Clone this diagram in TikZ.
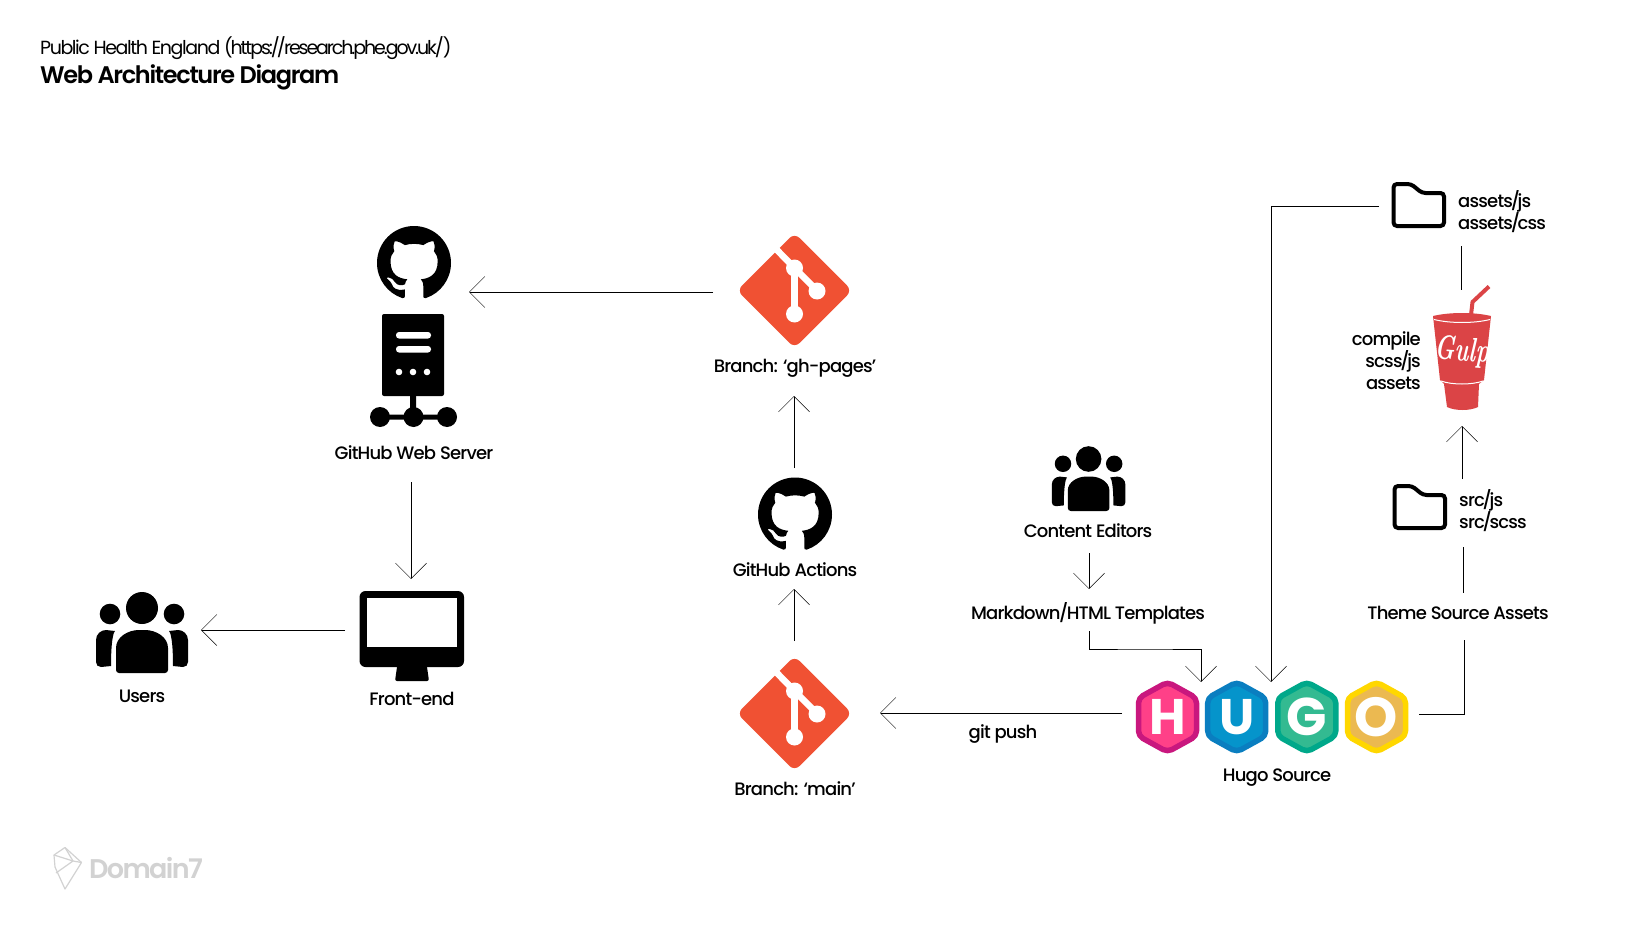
\documentclass[tikz,border=0pt]{standalone}
\usepackage{fontspec}
\setmainfont{Poppins}[UprightFont=* Medium,BoldFont=* SemiBold,LetterSpace=-4.5]
\newfontfamily\lightfont{Poppins}[LetterSpace=-7.5]
\newfontfamily\urlfont{Poppins}[LetterSpace=-11]
\newfontfamily\titlefont{Poppins}[UprightFont=* SemiBold,LetterSpace=-5.5]
\newfontfamily\logofont{Poppins}[UprightFont=* SemiBold,LetterSpace=-6]
\newfontfamily\heavyfont{Poppins}[UprightFont=* Bold]
\newfontfamily\gulpfont{Latin Modern Roman}
\newcommand{\slh}{\kern-2.2pt/\kern-2.4pt}
\usetikzlibrary{arrows.meta,svg.path}
\definecolor{gitred}{HTML}{F05133}
\definecolor{gulpred}{HTML}{DB4446}
\definecolor{dgray}{HTML}{D2D2D2}
\definecolor{HugoH}{HTML}{C9177E}
\definecolor{HugoHi}{HTML}{FF4088}
\definecolor{HugoU}{HTML}{0A7EC0}
\definecolor{HugoUi}{HTML}{0594CB}
\definecolor{HugoG}{HTML}{00A88A}
\definecolor{HugoGi}{HTML}{33BA91}
\definecolor{HugoO}{HTML}{FFD700}
\definecolor{HugoOi}{HTML}{EBB951}
\tikzset{
  lbl/.style={inner sep=0pt,anchor=base,font=\fontsize{18}{22}\selectfont},
  ltxt/.style={inner sep=0pt,anchor=base west,font=\fontsize{18}{22}\selectfont},
  rtxt/.style={inner sep=0pt,anchor=base east,font=\fontsize{18}{22}\selectfont},
  conn/.style={line width=1pt,draw=black},
  arr/.style={conn,-{Straight Barb[length=15.5pt,width=31pt,line width=0.5pt]}},
}
\newcommand{\ghmark}[2]{%
  \begin{scope}[shift={(#1-37,#2-37)},yscale=-1,scale=4.625]
  \fill[black] svg "M8 0 C3.58 0 0 3.58 0 8 C0 11.54 2.29 14.53 5.47 15.59 c0.4 0.07 0.55 -0.17 0.55 -0.38 c0 -0.19 -0.01 -0.82 -0.01 -1.49 c-2.01 0.37 -2.53 -0.49 -2.69 -0.94 c-0.09 -0.23 -0.48 -0.94 -0.82 -1.13 c-0.28 -0.15 -0.68 -0.52 -0.01 -0.53 c0.63 -0.01 1.08 0.58 1.23 0.82 c0.72 1.21 1.87 0.87 2.33 0.66 c0.07 -0.52 0.28 -0.87 0.51 -1.07 c-1.78 -0.2 -3.64 -0.89 -3.64 -3.95 c0 -0.87 0.31 -1.59 0.82 -2.15 c-0.08 -0.2 -0.36 -1.02 0.08 -2.12 c0 0 0.67 -0.21 2.2 0.82 c0.64 -0.18 1.32 -0.27 2 -0.27 c0.68 0 1.36 0.09 2 0.27 c1.53 -1.04 2.2 -0.82 2.2 -0.82 c0.44 1.1 0.16 1.92 0.08 2.12 c0.51 0.56 0.82 1.27 0.82 2.15 c0 3.07 -1.87 3.75 -3.65 3.95 c0.29 0.25 0.54 0.73 0.54 1.48 c0 1.07 -0.01 1.93 -0.01 2.2 c0 0.21 0.15 0.46 0.55 0.38 C13.71 14.53 16 11.53 16 8 C16 3.58 12.42 0 8 0 Z";
  \end{scope}}
\newcommand{\gitlogo}[2]{%
  \begin{scope}[shift={(#1,#2)}]
  \fill[gitred,rounded corners=7pt] (0,-57.5)--(57.5,0)--(0,57.5)--(-57.5,0)--cycle;
  \draw[white,line width=6.5pt] (-19,-42)--(0,-22.5)--(22.5,0);
  \draw[white,line width=6.5pt] (0,-22.5)--(0,23.5);
  \fill[white] (0,-22.5) circle (8.5) (22.5,0.5) circle (8.5) (0,23.5) circle (8.5);
  \end{scope}}
\newcommand{\people}[3]{%
  \begin{scope}[shift={(#1,#2)},scale=#3]
  \fill[black] (0,-65) ellipse (16 and 16);
  \fill[black] (-32,-59) circle (10.3) (32,-59) circle (10.3);
  \fill[black,rounded corners=3pt] (-26,0)--(-26,-22)
     .. controls (-26,-36) and (-14,-43) .. (0,-43)
     .. controls (14,-43) and (26,-36) .. (26,-22)--(26,0)--cycle;
  \fill[black] (-27,-42) .. controls (-29,-40) and (-31,-30) .. (-31,-7)
     --(-41,-6) .. controls (-44,-6) and (-46,-8) .. (-46,-11)
     --(-46,-33) .. controls (-46,-39) and (-41,-43) .. (-36,-43)--cycle;
  \fill[black] (27,-42) .. controls (29,-40) and (31,-30) .. (31,-7)
     --(41,-6) .. controls (44,-6) and (46,-8) .. (46,-11)
     --(46,-33) .. controls (46,-39) and (41,-43) .. (36,-43)--cycle;
  \end{scope}}
\newcommand{\folder}[2]{%
  \draw[black,line width=4pt,rounded corners=3.5pt,shift={(#1,#2)}]
    (2.5,2)--(20,2)--(31,11)--(53,11)--(53,44)--(2.5,44)--cycle;}
\newcommand{\hugohex}[7]{%
  \begin{scope}[shift={(#1,#2)}]
  \filldraw[draw=#3,fill=#4,line width=5.5pt,rounded corners=5pt,line join=round]
    (0,-35)--(29,-19)--(29,19)--(0,35)--(-29,19)--(-29,-19)--cycle;
  \node[inner sep=0pt,text=white] (#6) at (0,0) {\heavyfont\fontsize{#7}{#7}\selectfont #5};
  \end{scope}}
\begin{document}
\begin{tikzpicture}[x=1pt,y=-1pt]
\useasboundingbox (0,0) rectangle (1652,947);
\fill[white] (0,0) rectangle (1652,947);
% titles
\node[inner sep=0pt,anchor=base west,font=\lightfont\fontsize{19}{22}\selectfont] (t1) at (40,54.5) {Public Health England {\urlfont(https:\kern-2pt/\kern-3pt/\kern-2pt research.phe.gov.uk\kern-2pt/\kern-1pt)}};
\node[inner sep=0pt,anchor=base west,font=\titlefont\fontsize{24}{28}\selectfont] (t2) at (40,83.5) {Web Architecture Diagram};
% icons
\ghmark{414}{263}
\begin{scope}[shift={(0,0)}]
 \fill[black,rounded corners=2pt] (382,314) rectangle (444,396);
 \fill[white,rounded corners=3pt] (396,332) rectangle (431,338.5) (396,346) rectangle (431,352.5);
 \fill[white] (399,372) circle (3.3) (413,372) circle (3.3) (427,372) circle (3.3);
 \fill[black] (410,396) rectangle (416,417) (380,414.5) rectangle (447,419.5);
 \fill[black] (380,417) circle (10) (413.5,417) circle (10) (447,417) circle (10);
\end{scope}
\node[lbl] (server) at (414,459) {GitHub Web Server};
\gitlogo{794.5}{290.5}
\node[lbl] (ghpages) at (795,372) {Branch: ‘gh-pages’};
\ghmark{795}{514.5}
\node[lbl] (actions) at (795,576) {GitHub Actions};
\gitlogo{794.5}{713.5}
\node[lbl] (main) at (795,795) {Branch: ‘main’};
% monitor
\fill[black,rounded corners=6pt] (359.5,591) rectangle (464,667);
\fill[white] (367,598) rectangle (457,647);
\fill[black,rounded corners=2pt] (398,660)--(426,660)--(429,681)--(395,681)--cycle;
\node[lbl] (front) at (412,705) {Front-end};
\people{142}{673}{1}
\node[lbl] (users) at (142,702) {Users};
\people{1088.6}{511}{0.8}
\node[lbl] (editors) at (1088,537) {Content Editors};
\node[lbl] (md) at (1088,619) {Markdown\kern-1.5pt/\kern-1.5pt HTML Templates};
\node[lbl] (theme) at (1458,619) {Theme Source Assets};
\node[lbl] (gitpush) at (1003,738) {git push};
\node[lbl] (hugolbl) at (1277,781) {Hugo Source};
% folders
\folder{1391}{182}
\node[ltxt] (as1) at (1458,207) {assets\slh js};
\node[ltxt] (as2) at (1458,229) {assets\slh css};
\folder{1392}{484}
\node[ltxt] (src1) at (1459,506) {src\slh js};
\node[ltxt] (src2) at (1459,528) {src\slh scss};
\node[rtxt] (c1) at (1421,345) {compile};
\node[rtxt] (c2) at (1421,367) {scss\slh js};
\node[rtxt] (c3) at (1421,389) {assets};
% gulp
\draw[gulpred,line width=4pt] (1471,315)--(1472.5,302)--(1489,286.5);
\fill[gulpred] (1433,316) .. controls (1450,312) and (1474,312) .. (1491,316)
   --(1484,380)--(1479,384)--(1478,407) .. controls (1470,411) and (1455,411) .. (1447,407)
   --(1444,384)--(1440,380)--cycle;
\draw[white,line width=1pt] (1434,319.5) .. controls (1450,323.5) and (1474,323.5) .. (1490,319.5);
\draw[white,line width=1pt] (1441,381) .. controls (1452,385) and (1472,385) .. (1483,381);
\node[inner sep=0pt,text=white,rotate=-4,xscale=0.66] (gulp) at (1462,352) {\gulpfont\bfseries\itshape\fontsize{34}{34}\selectfont Gulp};
% hugo
\hugohex{1167.5}{717}{HugoH}{HugoHi}{H}{hh}{50}
\hugohex{1236.7}{717}{HugoU}{HugoUi}{U}{hu}{50}
\hugohex{1306.8}{717}{HugoG}{HugoGi}{G}{hg}{53}
\hugohex{1376.5}{717}{HugoO}{HugoOi}{O}{ho}{55}
% domain7
\begin{scope}[dgray,line width=1.2pt,line join=round]
 \draw (65,847.5)--(81.5,862.5)--(65,889)--(55,867)--(54,855)--cycle;
 \draw (54,855)--(73,861)--(56,873);
 \draw (65,847.5)--(73,861)--(81.5,862.5);
\end{scope}
\node[inner sep=0pt,anchor=base west,text=dgray,font=\logofont\fontsize{27}{30}\selectfont] (d7) at (89,878) {Domain7};
% connectors
\coordinate (a1) at (713,292); \coordinate (a2) at (469,292);
\coordinate (b1) at (411,482); \coordinate (b2) at (411,579);
\coordinate (c1a) at (345,630); \coordinate (c2a) at (201,630);
\coordinate (d1) at (794,641); \coordinate (d2) at (794,589);
\coordinate (e1) at (794,468); \coordinate (e2) at (794,396);
\coordinate (f1) at (1122,713); \coordinate (f2) at (880,713);
\coordinate (g1) at (1089,553); \coordinate (g2) at (1089,589);
\coordinate (h1) at (1089,631); \coordinate (h2) at (1201,682);
\coordinate (i1) at (1379,206); \coordinate (i2) at (1271,682);
\coordinate (j1) at (1461,246); \coordinate (j2) at (1461,290);
\coordinate (k1) at (1462,479); \coordinate (k2) at (1462,426);
\coordinate (l1) at (1463,547); \coordinate (l2) at (1463,593);
\coordinate (m1) at (1464,640); \coordinate (m2) at (1419,714);
\draw[arr] (a1)--(a2);
\draw[arr] (b1)--(b2);
\draw[arr] (c1a)--(c2a);
\draw[arr] (d1)--(d2);
\draw[arr] (e1)--(e2);
\draw[arr] (f1)--(f2);
\draw[arr] (g1)--(g2);
\draw[arr] (h1)|-(1145,649)-|(h2);
\draw[arr] (i1)-|(i2);
\draw[conn] (j1)--(j2);
\draw[arr] (k1)--(k2);
\draw[conn] (l1)--(l2);
\draw[conn] (m1)|-(m2);
\end{tikzpicture}
\end{document}
